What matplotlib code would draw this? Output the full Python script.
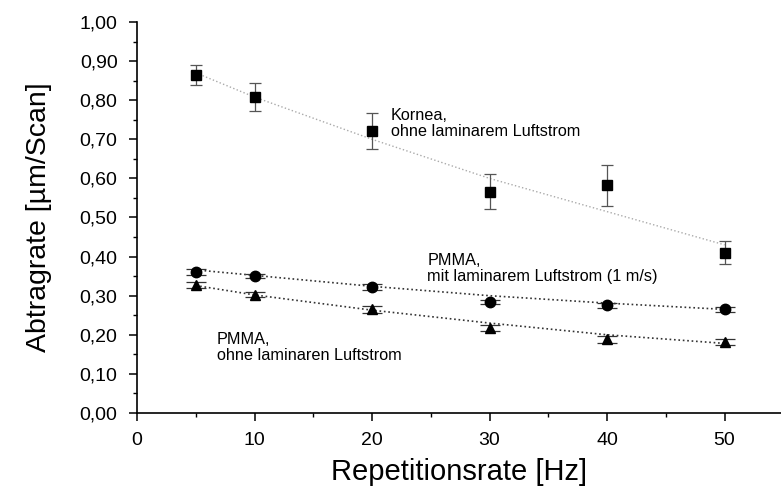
import numpy as np
import matplotlib.pyplot as plt
from matplotlib import ticker

plt.rcParams['font.family'] = ['Liberation Sans', 'DejaVu Sans']

# Messwerte
freq = [5, 10, 20, 30, 40, 50]
kornea = [0.864, 0.808, 0.721, 0.566, 0.582, 0.410]
kornea_err = [0.025, 0.035, 0.047, 0.045, 0.053, 0.030]
pmma_mit = [0.361, 0.350, 0.322, 0.284, 0.275, 0.265]
pmma_mit_err = [0.007, 0.006, 0.007, 0.006, 0.007, 0.006]
pmma_ohne = [0.327, 0.303, 0.265, 0.217, 0.188, 0.182]
pmma_ohne_err = [0.008, 0.007, 0.008, 0.007, 0.008, 0.007]

# Fitkurven
fit_x = [5, 10, 20, 30, 40, 50]
kornea_fit = [0.870, 0.808, 0.700, 0.600, 0.515, 0.430]
pmma_mit_fit = [0.366, 0.352, 0.324, 0.300, 0.281, 0.265]
pmma_ohne_fit = [0.326, 0.302, 0.263, 0.230, 0.200, 0.178]

fig = plt.figure(figsize=(7.81, 4.92), dpi=100)
ax = fig.add_axes([137 / 781, 79 / 492, 644 / 781, 391 / 492])

# Fitlinien
ax.plot(fit_x, kornea_fit, ':', color='#aaaaaa', lw=1.0)
ax.plot(fit_x, pmma_mit_fit, ':', color='#333333', lw=1.2)
ax.plot(fit_x, pmma_ohne_fit, ':', color='#333333', lw=1.2)

ax.errorbar(freq, kornea, yerr=kornea_err, fmt='s', color='black', ms=7,
            ecolor='#555555', elinewidth=0.9, capsize=4, capthick=0.9)
ax.errorbar(freq, pmma_mit, yerr=pmma_mit_err, fmt='o', color='black', ms=7.5,
            ecolor='#333333', elinewidth=0.9, capsize=7, capthick=0.9)
ax.errorbar(freq, pmma_ohne, yerr=pmma_ohne_err, fmt='^', color='black', ms=7.5,
            ecolor='#333333', elinewidth=0.9, capsize=7, capthick=0.9)

ax.text(21.6, 0.78, 'Kornea,\nohne laminarem Luftstrom', fontsize=11.7,
        va='top', linespacing=1.1)
ax.text(24.7, 0.41, 'PMMA,\nmit laminarem Luftstrom (1 m/s)', fontsize=11.7,
        va='top', linespacing=1.1)
ax.text(6.8, 0.207, 'PMMA,\nohne laminaren Luftstrom', fontsize=11.7,
        va='top', linespacing=1.1)

ax.set_xlim(0, 54.8)
ax.set_ylim(0, 1.0)
ax.xaxis.set_major_locator(ticker.MultipleLocator(10))
ax.xaxis.set_minor_locator(ticker.MultipleLocator(5))
ax.yaxis.set_major_locator(ticker.MultipleLocator(0.1))
ax.yaxis.set_minor_locator(ticker.MultipleLocator(0.05))
ax.yaxis.set_major_formatter(ticker.FuncFormatter(lambda v, p: f'{v:.2f}'.replace('.', ',')))

ax.spines['top'].set_visible(False)
ax.spines['right'].set_visible(False)
for s in ('left', 'bottom'):
    ax.spines[s].set_linewidth(1.2)
ax.tick_params(which='major', direction='out', length=6, width=1.1, labelsize=14, pad=8)
ax.tick_params(which='minor', direction='out', length=3, width=1.0)

ax.set_xlabel('Repetitionsrate [Hz]', fontsize=21, labelpad=6)
ax.set_ylabel('Abtragrate [µm/Scan]', fontsize=20.5, labelpad=20)

fig.savefig('out.png', dpi=100)
plt.close(fig)
